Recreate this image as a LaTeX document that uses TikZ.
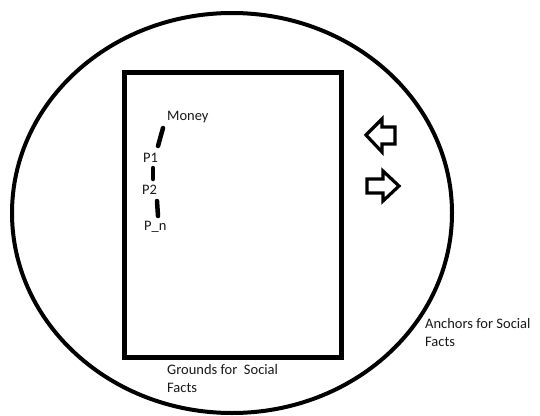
\documentclass[tikz,border=0pt]{standalone}
\usepackage{fontspec}
\setmainfont{Carlito}
\begin{document}
\begin{tikzpicture}[x=1pt,y=-1pt,
  lbl/.style={anchor=west,inner sep=0pt,font=\fontsize{14.5}{18}\selectfont,text=black!90},
  dashseg/.style={line width=4.5pt,line cap=round},
  blockarrow/.style={line width=3.2pt,line join=miter}]
\useasboundingbox (0,0) rectangle (540,415);
\fill[white] (0,0) rectangle (540,415);
% outer ellipse
\draw[line width=4pt] (232,213) ellipse [x radius=220, y radius=200];
% rectangle
\draw[line width=5pt] (124.5,72.5) rectangle (341.5,357.5);
% labels
\node[lbl] (money) at (167,117) {Money};
\node[lbl] (p1) at (143,158) {P1};
\node[lbl] (p2) at (142,190) {P2};
\node[lbl] (pn) at (144,227) {P\_n};
\node[lbl,align=left] (grounds) at (167,379) {Grounds for\ \ Social\\Facts};
\node[lbl,align=left] (anchors) at (425,333) {Anchors for Social\\Facts};
% dashes
\coordinate (d1a) at (163,128); \coordinate (d1b) at (158,146);
\coordinate (d2a) at (153,168); \coordinate (d2b) at (153,179);
\coordinate (d3a) at (157,201); \coordinate (d3b) at (158,216);
\draw[dashseg] (d1a) -- (d1b);
\draw[dashseg] (d2a) -- (d2b);
\draw[dashseg] (d3a) -- (d3b);
% block arrows
\draw[blockarrow] (366,135) -- (382,119) -- (382,127) -- (395,127) -- (395,144) -- (382,144) -- (382,152) -- cycle;
\draw[blockarrow] (399,186) -- (383,171) -- (383,179) -- (367,179) -- (367,193) -- (383,193) -- (383,201) -- cycle;
\end{tikzpicture}
\end{document}
